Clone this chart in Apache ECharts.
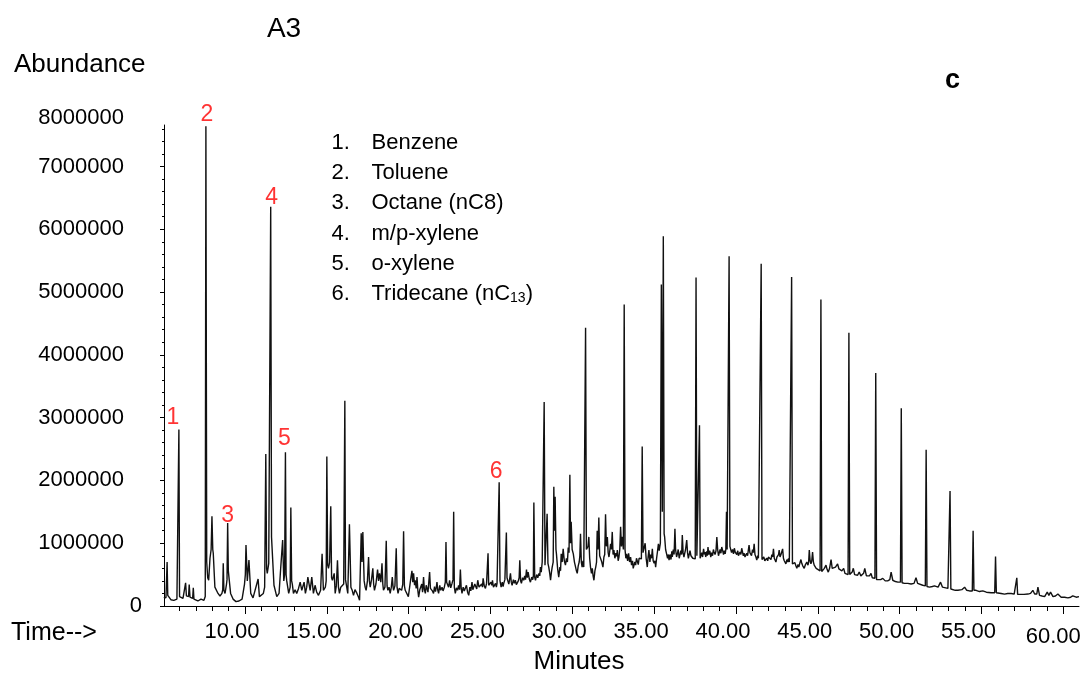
<!DOCTYPE html>
<html>
<head>
<meta charset="utf-8">
<title>A3 chromatogram</title>
<script src="https://cdn.jsdelivr.net/npm/echarts@6/dist/echarts.min.js"></script>
<style>
  html, body { margin: 0; padding: 0; background: #fff; }
  #chart { width: 1086px; height: 675px; }
</style>
</head>
<body>
<div id="chart"></div>
<script>
// Total ion chromatogram of sample A3: [retention time (min), abundance]
const traceEarly = [
  [5.04,140000],[5.17,130000],[5.21,160000],[5.24,700000],[5.28,170000],[5.31,150000],[5.47,100000],
  [5.65,90000],[5.84,110000],[5.92,130000],[5.96,2810000],[6.00,150000],[6.05,130000],[6.21,120000],
  [6.33,140000],[6.37,370000],[6.42,160000],[6.45,150000],[6.55,150000],[6.59,340000],[6.64,140000],
  [6.68,130000],[6.80,120000],[6.84,290000],[6.88,110000],[6.92,100000],[7.12,80000],[7.31,110000],
  [7.49,90000],[7.57,150000],[7.61,7640000],[7.66,700000],[7.72,450000],[7.78,410000],[7.86,760000],
  [7.93,900000],[7.98,1430000],[8.03,900000],[8.06,840000],[8.16,300000],[8.27,330000],[8.35,200000],
  [8.47,160000],[8.59,200000],[8.64,260000],[8.67,680000],[8.71,250000],[8.78,200000],[8.87,350000],
  [8.90,420000],[8.94,1320000],[8.98,560000],[9.02,540000],[9.12,200000],[9.27,110000],[9.45,70000],
  [9.63,80000],[9.82,110000],[9.97,350000],[10.02,500000]
];
const traceLight = [
  [10.06,970000],[10.14,400000],[10.24,730000],[10.35,200000],[10.49,130000],[10.61,150000],[10.80,430000],
  [10.88,150000],[11.00,180000],[11.12,200000],[11.20,300000],[11.27,2420000],[11.32,600000],[11.36,520000],
  [11.45,680000],[11.51,700000],[11.57,6360000],[11.62,1100000],[11.65,1070000],[11.77,330000],[11.94,150000],
  [12.08,200000],[12.18,600000],[12.30,1050000],[12.37,400000],[12.42,500000],[12.47,2450000],[12.51,500000],
  [12.55,400000],[12.67,200000],[12.76,300000],[12.80,1570000],[12.85,400000],[12.89,350000],[12.96,200000],
  [13.06,260000],[13.16,200000],[13.27,280000],[13.37,380000],[13.47,250000],[13.61,380000],[13.69,200000],
  [13.77,300000],[13.84,460000],[13.98,250000],[14.08,460000],[14.18,200000],[14.28,330000],[14.38,220000],
  [14.49,170000],[14.62,250000],[14.71,830000],[14.79,250000],[14.91,300000],[14.96,400000],[15.00,2380000],
  [15.05,650000],[15.10,600000],[15.17,700000],[15.24,1590000],[15.29,450000],[15.34,410000],[15.45,520000],
  [15.51,200000],[15.58,320000],[15.65,730000],[15.71,300000],[15.77,200000],[15.85,300000],[15.92,280000],
  [16.03,350000],[16.06,380000],[16.10,3270000],[16.14,420000],[16.18,400000],[16.28,200000],[16.38,1300000],
  [16.47,300000],[16.55,250000],[16.63,170000],[16.72,260000],[16.84,200000],[16.92,150000],[17.00,90000],
  [17.10,1160000],[17.15,700000],[17.20,1180000],[17.28,400000],[17.34,300000],[17.40,250000],[17.48,400000],
  [17.55,780000],[17.60,400000],[17.65,300000],[17.73,420000],[17.81,600000],[17.86,350000],[17.91,250000],
  [18.00,350000],[18.10,580000],[18.16,400000],[18.22,520000],[18.30,380000],[18.37,680000],[18.42,350000],
  [18.46,250000],[18.55,300000],[18.63,1040000],[18.68,320000],[18.73,250000],[18.80,300000],[18.87,200000],
  [18.94,300000],[19.00,460000],[19.05,300000],[19.08,250000],[19.16,320000],[19.24,920000],[19.29,300000],
  [19.35,200000],[19.42,280000],[19.49,300000],[19.57,250000],[19.64,350000],[19.69,1190000],[19.74,320000],
  [19.79,250000],[19.88,220000],[19.98,150000]
];
const traceMiddle = [
  [20.06,300000],[20.12,420000],[20.20,560000],[20.25,380000],[20.30,520000],[20.36,330000],[20.40,410000],
  [20.46,280000],[20.51,460000],[20.56,250000],[20.61,140000],[20.68,260000],[20.75,250000],[20.80,350000],
  [20.85,220000],[20.91,460000],[20.96,260000],[21.02,200000],[21.07,330000],[21.12,300000],[21.18,220000],
  [21.23,380000],[21.28,540000],[21.33,280000],[21.38,300000],[21.45,240000],[21.52,200000],[21.58,310000],
  [21.64,230000],[21.69,300000],[21.73,380000],[21.78,250000],[21.83,200000],[21.90,330000],[21.96,250000],
  [22.04,300000],[22.10,240000],[22.18,300000],[22.24,380000],[22.28,1020000],[22.32,380000],[22.38,360000],
  [22.44,300000],[22.50,410000],[22.57,290000],[22.65,360000],[22.71,420000],[22.75,1500000],[22.79,300000],
  [22.85,200000],[22.92,290000],[22.99,250000],[23.05,330000],[23.11,260000],[23.16,580000],[23.21,280000],
  [23.26,200000],[23.33,300000],[23.40,240000],[23.46,250000],[23.53,330000],[23.60,220000],[23.67,170000],
  [23.74,300000],[23.80,240000],[23.87,380000],[23.92,260000],[23.97,250000],[24.04,350000],[24.10,320000],
  [24.16,270000],[24.22,410000],[24.30,300000],[24.38,280000],[24.46,350000],[24.51,300000],[24.55,440000],
  [24.62,320000],[24.69,280000],[24.76,360000],[24.81,380000],[24.85,840000],[24.89,330000],[24.95,300000],
  [25.03,380000],[25.08,330000],[25.12,410000],[25.18,300000],[25.24,280000],[25.31,360000],[25.36,300000],
  [25.40,360000],[25.49,380000],[25.53,1970000],[25.58,400000],[25.65,300000],[25.72,380000],[25.77,310000],
  [25.81,360000],[25.88,420000],[25.93,400000],[25.97,1170000],[26.01,450000],[26.05,410000],[26.12,350000],
  [26.17,430000],[26.22,520000],[26.27,380000],[26.32,330000],[26.40,420000],[26.46,360000],[26.52,410000],
  [26.58,340000],[26.63,330000],[26.70,400000],[26.75,450000],[26.79,730000],[26.84,400000],[26.89,360000],
  [26.96,450000],[27.03,410000],[27.09,480000],[27.14,420000],[27.20,580000],[27.25,450000],[27.30,540000],
  [27.37,430000],[27.44,380000],[27.52,460000],[27.58,420000],[27.62,480000],[27.65,1650000],[27.70,460000],
  [27.75,410000],[27.82,500000],[27.89,450000],[27.96,520000],[28.01,480000],[28.05,620000],[28.10,540000],
  [28.16,700000],[28.24,700000],[28.28,3250000],[28.33,650000],[28.38,620000],[28.46,1470000],[28.51,680000],
  [28.56,620000],[28.62,520000],[28.67,410000],[28.72,530000],[28.77,620000],[28.83,700000],[28.87,1900000],
  [28.91,1200000],[28.95,1740000],[29.00,900000],[29.03,830000],[29.10,600000],[29.17,460000],[29.24,620000],
  [29.28,560000],[29.32,830000],[29.38,700000],[29.44,910000],[29.51,720000],[29.58,650000],[29.64,760000],
  [29.70,700000],[29.75,930000],[29.80,850000],[29.85,2090000],[29.89,1000000],[29.93,1340000],[29.99,900000],
  [30.06,830000]
];
const traceHump = [
  [30.13,700000],[30.20,620000],[30.25,560000],[30.30,520000],[30.36,640000],[30.42,700000],[30.46,800000],
  [30.50,1150000],[30.55,700000],[30.60,620000],[30.65,720000],[30.70,620000],[30.77,650000],[30.81,4430000],
  [30.86,900000],[30.91,890000],[30.96,950000],[31.01,1100000],[31.06,760000],[31.11,620000],[31.17,520000],
  [31.22,600000],[31.27,480000],[31.32,410000],[31.38,560000],[31.43,620000],[31.48,700000],[31.52,1200000],
  [31.57,900000],[31.62,1410000],[31.67,800000],[31.73,830000],[31.80,700000],[31.87,620000],[31.93,780000],
  [31.98,820000],[32.03,1460000],[32.08,950000],[32.14,1100000],[32.19,850000],[32.24,780000],[32.29,880000],
  [32.34,990000],[32.39,900000],[32.44,1180000],[32.49,820000],[32.54,890000],[32.60,760000],[32.66,840000],
  [32.71,790000],[32.75,890000],[32.80,720000],[32.85,780000],[32.90,900000],[32.95,1260000],[33.00,950000],
  [33.05,1100000],[33.12,900000],[33.17,4800000],[33.22,900000],[33.27,760000],[33.32,830000],[33.38,720000],
  [33.44,840000],[33.50,700000],[33.56,780000],[33.62,650000],[33.68,720000],[33.72,600000],[33.76,620000],
  [33.82,700000],[33.87,650000],[33.92,760000],[33.97,780000],[34.03,660000],[34.08,760000],[34.13,730000],
  [34.22,750000],[34.27,2540000],[34.32,850000],[34.38,830000],[34.45,1000000],[34.51,760000],[34.58,620000],
  [34.63,780000],[34.68,890000],[34.74,700000],[34.79,820000],[34.84,760000],[34.89,910000],[34.94,720000],
  [35.00,680000],[35.05,720000],[35.09,620000],[35.15,760000],[35.20,860000],[35.26,990000],[35.31,880000],
  [35.38,1000000],[35.44,5120000],[35.50,1500000],[35.56,5890000],[35.61,1150000],[35.64,1100000],[35.70,900000],
  [35.76,830000],[35.82,760000],[35.87,820000],[35.91,730000],[35.97,820000],[36.03,740000],[36.08,870000],
  [36.11,780000],[36.17,900000],[36.22,820000],[36.27,1230000],[36.31,900000],[36.37,780000],[36.42,830000],
  [36.47,900000],[36.53,760000],[36.58,780000],[36.63,880000],[36.68,820000],[36.72,1130000],[36.77,850000],
  [36.82,780000],[36.86,830000],[36.92,900000],[36.99,1050000],[37.04,850000],[37.09,760000],[37.13,780000],
  [37.19,880000],[37.25,800000],[37.30,830000],[37.36,760000],[37.44,730000],[37.51,750000],[37.56,5230000],
  [37.61,800000],[37.64,780000],[37.72,800000],[37.77,2880000],[37.81,760000],[37.85,730000],[37.91,850000],
  [37.96,780000],[38.02,910000],[38.07,820000],[38.11,860000],[38.15,780000],[38.21,870000],[38.25,800000],
  [38.29,940000],[38.34,820000],[38.40,880000],[38.46,780000],[38.51,850000],[38.57,800000],[38.62,900000],
  [38.66,860000],[38.72,820000],[38.78,880000],[38.83,1100000],[38.88,900000],[38.93,800000],[38.97,830000],
  [39.03,900000],[39.08,840000],[39.13,940000],[39.18,890000],[39.24,820000],[39.29,880000],[39.34,830000],
  [39.38,900000],[39.42,1500000],[39.46,900000],[39.50,900000],[39.53,880000],[39.58,5570000],[39.63,950000],
  [39.68,940000],[39.73,850000],[39.79,900000],[39.85,830000],[39.90,920000],[39.95,860000],[39.99,890000],
  [40.05,820000],[40.11,880000],[40.15,800000],[40.19,780000],[40.25,860000],[40.30,820000],[40.35,920000],
  [40.40,890000],[40.45,800000],[40.51,840000],[40.55,780000],[40.60,760000],[40.66,840000],[40.71,800000],
  [40.76,900000],[40.80,970000],[40.85,850000],[40.90,880000],[40.95,800000],[41.01,900000],[41.06,850000],
  [41.11,990000],[41.16,820000],[41.22,780000],[41.27,730000],[41.33,800000],[41.37,760000],[41.41,780000],
  [41.49,760000],[41.54,5450000],[41.59,740000],[41.64,730000],[41.70,780000],[41.76,720000],[41.82,700000],
  [41.88,760000],[41.94,720000],[41.98,780000],[42.03,760000],[42.09,800000],[42.14,740000],[42.19,820000],
  [42.24,780000],[42.29,910000],[42.34,760000],[42.40,740000],[42.44,700000],[42.50,780000],[42.55,760000],
  [42.60,820000],[42.64,890000],[42.69,780000],[42.75,820000],[42.80,800000],[42.85,910000],[42.90,760000],
  [42.95,720000],[43.00,700000],[43.05,670000],[43.11,740000],[43.16,700000],[43.21,760000],[43.26,700000],
  [43.35,690000],[43.40,5240000],[43.45,670000],[43.50,700000],[43.55,650000],[43.60,690000],[43.66,640000],
  [43.72,600000],[43.78,660000],[43.84,620000],[43.90,680000],[43.97,740000],[44.02,680000],[44.08,640000],
  [44.13,660000],[44.17,600000],[44.23,650000],[44.28,620000],[44.33,700000],[44.40,650000],[44.44,700000],
  [44.48,890000],[44.53,720000],[44.58,670000],[44.63,720000],[44.68,860000],[44.73,700000],[44.78,650000],
  [44.82,620000],[44.90,600000],[44.98,570000]
];
const traceLate = [
  [45.14,560000],[45.19,4880000],[45.24,550000],[45.30,540000],[45.40,600000],[45.50,650000],[45.57,580000],
  [45.64,540000],[45.72,600000],[45.81,740000],[45.88,600000],[45.97,570000],[46.08,620000],[46.21,670000],
  [46.29,590000],[46.37,600000],[46.47,560000],[46.58,600000],[46.66,520000],[46.72,490000],[46.85,500000],
  [46.90,4350000],[46.95,500000],[47.02,490000],[47.10,540000],[47.17,600000],[47.25,500000],[47.33,520000],
  [47.43,490000],[47.53,540000],[47.63,480000],[47.74,490000],[47.80,520000],[47.87,600000],[47.97,480000],
  [48.07,460000],[48.16,480000],[48.25,520000],[48.33,450000],[48.41,440000],[48.49,440000],[48.54,3710000],
  [48.59,420000],[48.70,410000],[48.84,420000],[48.97,440000],[49.12,400000],[49.27,400000],[49.40,420000],
  [49.48,540000],[49.58,410000],[49.74,390000],[49.89,380000],[50.05,380000],[50.10,3150000],[50.15,370000],
  [50.29,360000],[50.50,360000],[50.70,350000],[50.88,360000],[51.00,450000],[51.10,360000],[51.20,330000],
  [51.41,330000],[51.57,320000],[51.62,2490000],[51.67,310000],[51.82,300000],[52.00,310000],[52.13,320000],
  [52.35,300000],[52.50,380000],[52.62,300000],[52.74,280000],[52.95,280000],[53.03,280000],[53.08,1830000],
  [53.13,270000],[53.25,260000],[53.40,250000],[53.56,250000],[53.80,260000],[53.97,300000],[54.10,250000],
  [54.27,240000],[54.44,240000],[54.49,1200000],[54.54,250000],[54.67,250000],[54.88,230000],[55.08,240000],
  [55.30,220000],[55.59,210000],[55.81,210000],[55.86,790000],[55.91,210000],[56.00,210000],[56.20,200000],
  [56.41,190000],[56.60,200000],[56.82,200000],[57.00,190000],[57.11,190000],[57.16,450000],[57.21,185000],
  [57.33,180000],[57.60,185000],[57.84,190000],[58.00,200000],[58.14,250000],[58.25,190000],[58.38,190000],
  [58.45,300000],[58.55,170000],[58.70,160000],[58.86,150000],[59.02,220000],[59.12,170000],[59.22,220000],
  [59.37,150000],[59.52,160000],[59.67,190000],[59.87,140000],[60.08,140000],[60.28,130000],[60.45,140000],
  [60.58,160000],[60.79,140000],[60.96,150000]
];

// Axis ticks
const xMajorTicks = [10, 15, 20, 25, 30, 35, 40, 45, 50, 55, 60];
const yTickValues = [0, 1000000, 2000000, 3000000, 4000000, 5000000, 6000000, 7000000, 7660000];
const yTickLabels = ['0', '1000000', '2000000', '3000000', '4000000', '5000000', '6000000', '7000000', '8000000'];

// Identified compounds (peak apex time, apex abundance)
const peakTimes = [5.96, 7.61, 8.94, 11.57, 12.47, 25.53];
const peakHeights = [2810000, 7640000, 1320000, 6360000, 2450000, 1970000];
const peakNumbers = ['1', '2', '3', '4', '5', '6'];
const compoundNames = ['Benzene', 'Toluene', 'Octane (nC8)', 'm/p-xylene', 'o-xylene', 'Tridecane (nC{sub|13})'];

const FONT = '"Liberation Sans", Arial, sans-serif';
const X_MIN = 5.05, X_MAX = 60.96, Y_MAX = 7660000;

const trace = [].concat(traceEarly, traceLight, traceMiddle, traceHump, traceLate);

const xMinorTicks = [];
for (let m = 6; m <= 60; m++) if (m % 5 !== 0) xMinorTicks.push(m);
const yMinorTicks = [];
for (let v = 200000; v < Y_MAX; v += 200000) if (v % 1000000 !== 0) yMinorTicks.push(v);

const txt = (size, extra) => Object.assign({ fontSize: size, fontFamily: FONT, color: '#000' }, extra || {});

// per-label nudges of the red peak numbers around each apex
const peakLabelOffsets = [[-6, -12], [1, -12], [0, -7], [1, -9], [-1, -13], [-3, -11]];

const legendGraphics = [];
compoundNames.forEach((name, i) => {
  const y = 143 + i * 30.2;
  legendGraphics.push({
    type: 'text', x: 331.5, y: y,
    style: { text: (i + 1) + '.', font: '22px ' + FONT, fill: '#000', align: 'left', verticalAlign: 'middle' }
  });
  legendGraphics.push({
    type: 'text', x: 371.5, y: y,
    style: {
      text: name, font: '22px ' + FONT, fill: '#000', align: 'left', verticalAlign: 'middle',
      rich: { sub: { font: '14px ' + FONT, fill: '#000', verticalAlign: 'bottom' } }
    }
  });
});

const option = {
  animation: false,
  backgroundColor: '#fff',
  grid: { left: 164, right: 7, top: 125, bottom: 69, containLabel: false },
  xAxis: [
    {
      type: 'value', min: X_MIN, max: X_MAX, position: 'bottom',
      axisLine: { show: true, lineStyle: { color: '#000', width: 1 } },
      axisTick: { show: true, customValues: xMajorTicks, length: 8, lineStyle: { color: '#000' } },
      axisLabel: {
        show: true, customValues: xMajorTicks, margin: 15,
        formatter: v => (v === 60 ? '{e|' : '{m|') + v.toFixed(2) + '}',
        rich: {
          m: txt(22, { padding: [0, 26, 0, 0] }),
          e: txt(22, { padding: [5, 20, 0, 0] })
        }
      },
      splitLine: { show: false }
    },
    {
      type: 'value', min: X_MIN, max: X_MAX, position: 'bottom',
      axisLine: { show: false },
      axisTick: { show: true, customValues: xMinorTicks, length: 5, lineStyle: { color: '#000' } },
      axisLabel: { show: false },
      splitLine: { show: false }
    }
  ],
  yAxis: [
    {
      type: 'value', min: 0, max: Y_MAX, position: 'left',
      axisLine: { show: true, lineStyle: { color: '#000', width: 1 } },
      axisTick: { show: true, customValues: yTickValues.slice(0, 8), length: 4, lineStyle: { color: '#000' } },
      axisLabel: {
        show: true, customValues: yTickValues, margin: 22, align: 'right',
        formatter: v => {
          const i = yTickValues.indexOf(v);
          const label = i >= 0 ? yTickLabels[i] : String(v);
          if (v === 0) return '{z|' + label + '}';
          if (v === Y_MAX) return '{t|' + label + '}';
          return '{n|' + label + '}';
        },
        rich: {
          z: txt(22),
          n: txt(22, { padding: [0, 18, 0, 0] }),
          t: txt(22, { padding: [0, 18, 14, 0] })
        }
      },
      splitLine: { show: false }
    },
    {
      type: 'value', min: 0, max: Y_MAX, position: 'left',
      axisLine: { show: false },
      axisTick: { show: true, customValues: yMinorTicks, length: 2, lineStyle: { color: '#000' } },
      axisLabel: { show: false },
      splitLine: { show: false }
    }
  ],
  series: [
    {
      type: 'line', xAxisIndex: 0, yAxisIndex: 0,
      data: trace, showSymbol: false, symbol: 'none',
      lineStyle: { color: '#111', width: 1.4 },
      emphasis: { disabled: true }
    },
    {
      type: 'scatter', xAxisIndex: 0, yAxisIndex: 0,
      symbolSize: 1, itemStyle: { color: 'rgba(0,0,0,0)' },
      data: peakTimes.map((t, i) => ({
        value: [t, peakHeights[i]],
        name: peakNumbers[i],
        label: { offset: peakLabelOffsets[i] }
      })),
      label: {
        show: true, position: 'inside', formatter: p => p.name,
        fontSize: 23, fontFamily: FONT, color: '#ff0000'
      },
      emphasis: { disabled: true },
      z: 5
    }
  ],
  graphic: [
    { type: 'text', x: 284, y: 29, style: { text: 'A3', font: '28px ' + FONT, fill: '#000', align: 'center', verticalAlign: 'middle' } },
    { type: 'text', x: 14, y: 65, style: { text: 'Abundance', font: '26px ' + FONT, fill: '#000', align: 'left', verticalAlign: 'middle' } },
    { type: 'text', x: 952.5, y: 81, style: { text: 'c', font: 'bold 27px ' + FONT, fill: '#000', align: 'center', verticalAlign: 'middle' } },
    { type: 'text', x: 11, y: 633, style: { text: 'Time-->', font: '25px ' + FONT, fill: '#000', align: 'left', verticalAlign: 'middle' } },
    { type: 'text', x: 579, y: 662, style: { text: 'Minutes', font: '26px ' + FONT, fill: '#000', align: 'center', verticalAlign: 'middle' } }
  ].concat(legendGraphics)
};

const chart = echarts.init(document.getElementById('chart'), null, { renderer: 'canvas' });
chart.setOption(option);
</script>
</body>
</html>
